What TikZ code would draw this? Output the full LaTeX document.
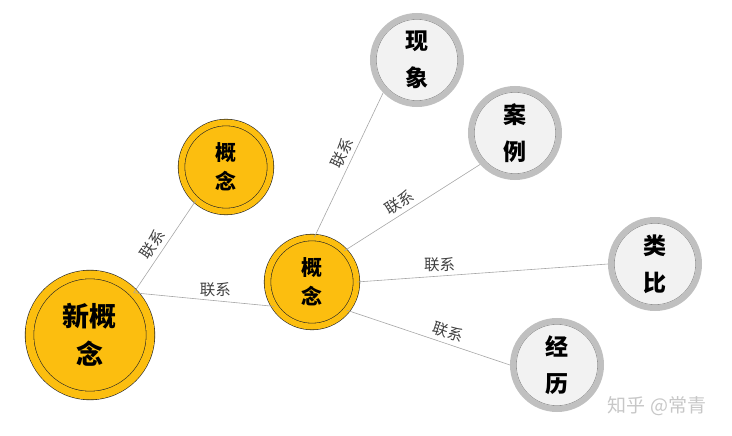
\documentclass[tikz,border=0pt]{standalone}
\usepackage{fontspec}
\usepackage{xcolor}
\usepackage{tikz}
\usetikzlibrary{positioning}
\newfontfamily\cjk{Noto Sans CJK SC}
\definecolor{ConceptGold}{RGB}{252,190,15}
\definecolor{RingGrey}{RGB}{192,192,192}
\definecolor{FaceGrey}{RGB}{242,242,242}
\definecolor{LinkGrey}{RGB}{166,166,166}
\definecolor{LabelGrey}{RGB}{64,64,64}
\tikzset{
  cpt/.style={circle, draw=black!85, line width=0.6pt, double=ConceptGold, double distance=#1,
    fill=ConceptGold, align=center, inner sep=0pt},
  fact/.style={circle, draw=RingGrey, line width=6pt, fill=FaceGrey, minimum size=88pt, inner sep=0pt,
    align=center, font={\cjk\bfseries\fontsize{23}{37}\selectfont},
    path picture={\draw[black!45, line width=0.6pt] (path picture bounding box.center) circle (40.7pt);}},
  link/.style={draw=LinkGrey, line width=0.6pt},
  linklabel/.style={font={\cjk\fontsize{15.5}{15.5}\selectfont}, text=LabelGrey, inner sep=4pt}
}

\begin{document}
\begin{tikzpicture}[x=1pt, y=-1pt]
  \useasboundingbox (0,0) rectangle (732,436);
  % gold concept circles
  \node[cpt=8pt, minimum size=121pt, font={\cjk\bfseries\fontsize{27}{38}\selectfont}] (newcpt) at (90,335) {新概\\念};
  \node[cpt=6pt, minimum size=89pt, font={\cjk\bfseries\fontsize{21}{29}\selectfont}] (cptA) at (226,167) {概\\念};
  \node[cpt=6pt, minimum size=89pt, font={\cjk\bfseries\fontsize{21}{29}\selectfont}] (cptB) at (312,282) {概\\念};
  % grey circles
  \node[fact] (phen) at (417,60) {现\\象};
  \node[fact] (cases) at (515,133) {案\\例};
  \node[fact] (analog) at (655,264) {类\\比};
  \node[fact] (exper) at (557,365) {经\\历};
  % links
  \draw[link] (newcpt.44) -- node[linklabel, pos=0.45, above, sloped] {联系} (cptA.228);
  \draw[link] (newcpt.44) -- node[linklabel, pos=0.58, above] {联系} (cptB.213);
  \draw[link] (cptB.87) -- node[linklabel, pos=0.55, above, sloped] {联系} (phen.224);
  \draw[link] (cptB.44) -- node[linklabel, pos=0.45, above, sloped] {联系} (cases.222);
  \draw[link] (cptB.0) -- node[linklabel, pos=0.33, above] {联系} (analog.180);
  \draw[link] (cptB.-39) -- node[linklabel, pos=0.6, above, sloped] {联系} (exper.180);
  \node[font={\cjk\fontsize{19}{19}\selectfont}, text=black!22] (mark) at (657,406) {知乎 @常青};
\end{tikzpicture}
\end{document}
